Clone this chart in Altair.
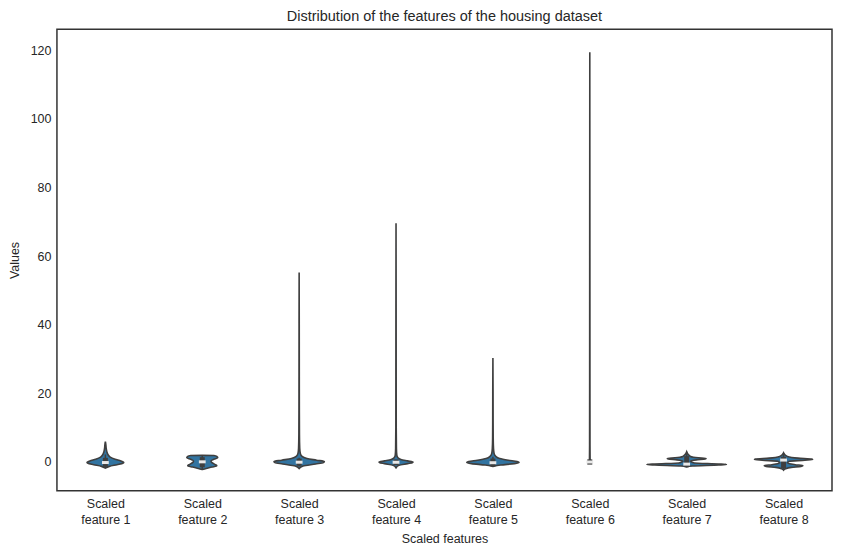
import altair as alt
import pandas as pd

# Category labels
features = ["Scaled feature 1", "Scaled feature 2", "Scaled feature 3", "Scaled feature 4",
            "Scaled feature 5", "Scaled feature 6", "Scaled feature 7", "Scaled feature 8"]

# Violin profiles: value positions and half-widths (in category units)
f1_y = [-1.8, -1.3, -0.8, -0.4, -0.1, 0.3, 0.8, 1.4, 2.0, 3.0, 4.0, 5.0, 5.9]
f1_w = [0.0, 0.04, 0.12, 0.18, 0.19, 0.16, 0.10, 0.05, 0.03, 0.015, 0.008, 0.005, 0.0]

f2_y = [-2.2, -1.9, -1.5, -1.1, -0.7, -0.2, 0.3, 0.8, 1.2, 1.6, 1.86, 1.9]
f2_w = [0.0, 0.04, 0.10, 0.15, 0.13, 0.10, 0.09, 0.12, 0.16, 0.15, 0.12, 0.0]

f3_y = [-1.9, -1.2, -0.6, -0.2, 0.1, 0.5, 1.0, 1.6, 2.5, 4.0, 8.0, 15.0, 25.0, 40.0, 55.2]
f3_w = [0.0, 0.04, 0.17, 0.25, 0.26, 0.18, 0.08, 0.03, 0.012, 0.006, 0.003, 0.002, 0.0015, 0.001, 0.0]

f4_y = [-1.7, -1.0, -0.5, -0.2, 0.0, 0.3, 0.7, 1.2, 2.0, 4.0, 10.0, 25.0, 45.0, 69.6]
f4_w = [0.0, 0.03, 0.12, 0.17, 0.175, 0.12, 0.05, 0.02, 0.008, 0.004, 0.002, 0.0015, 0.001, 0.0]

f5_y = [-1.3, -0.9, -0.5, -0.2, 0.1, 0.5, 1.0, 1.6, 2.5, 4.0, 7.0, 12.0, 20.0, 30.3]
f5_w = [0.0, 0.08, 0.22, 0.27, 0.25, 0.16, 0.07, 0.03, 0.012, 0.006, 0.003, 0.002, 0.0015, 0.0]

f6_y = [-0.25, -0.1, 0.0, 0.2, 1.0, 5.0, 20.0, 60.0, 119.4]
f6_w = [0.0, 0.006, 0.008, 0.006, 0.003, 0.002, 0.0015, 0.001, 0.0]

f7_y = [-1.45, -1.2, -0.9, -0.75, -0.6, -0.3, 0.2, 0.6, 0.85, 1.0, 1.2, 1.6, 2.2, 2.96]
f7_w = [0.0, 0.06, 0.33, 0.41, 0.33, 0.08, 0.04, 0.10, 0.19, 0.20, 0.12, 0.04, 0.015, 0.0]

f8_y = [-2.39, -2.0, -1.6, -1.3, -1.1, -0.8, -0.3, 0.2, 0.5, 0.7, 0.85, 1.1, 1.6, 2.2, 2.63]
f8_w = [0.0, 0.02, 0.08, 0.18, 0.20, 0.12, 0.04, 0.06, 0.22, 0.30, 0.29, 0.15, 0.04, 0.01, 0.0]

# Inner box statistics per feature
q1 = [-0.69, -0.85, -0.40, -0.19, -0.56, -0.06, -0.80, -1.11]
med = [-0.18, 0.03, -0.08, -0.10, -0.23, -0.02, -0.64, 0.54]
q3 = [0.46, 0.66, 0.25, 0.01, 0.26, 0.02, 0.97, 0.78]
wlo = [-1.77, -2.19, -1.37, -0.49, -1.25, -0.18, -1.45, -2.39]
whi = [2.18, 1.86, 1.23, 0.31, 1.50, 0.14, 2.96, 2.63]

profiles = [(f1_y, f1_w), (f2_y, f2_w), (f3_y, f3_w), (f4_y, f4_w),
            (f5_y, f5_w), (f6_y, f6_w), (f7_y, f7_w), (f8_y, f8_w)]

rows = []
for i, (ys, ws) in enumerate(profiles):
    for y, w in zip(ys, ws):
        rows.append({"i": i, "feature": features[i], "y": y, "w": w})
vdf = pd.DataFrame(rows)

bdf = pd.DataFrame({"i": list(range(8)), "feature": features,
                    "q1": q1, "med": med, "q3": q3, "wlo": wlo, "whi": whi})

FONT = "Liberation Sans"
TXT = "#262626"
EDGE = "#3f3f3f"

xscale = alt.Scale(domain=[-0.5, 7.5], nice=False, zero=False)
yscale = alt.Scale(domain=[-8.4, 126.1], nice=False, zero=False)

xaxis = alt.Axis(values=list(range(8)), title="Scaled features", grid=False, domain=False,
                 ticks=False, labelExpr="['Scaled', 'feature ' + (datum.value + 1)]",
                 labelFont=FONT, labelFontSize=12.5, labelColor=TXT, labelLineHeight=16,
                 labelPadding=7, titleFont=FONT, titleFontSize=12.5, titleColor=TXT,
                 titleFontWeight="normal", titlePadding=6)
yaxis = alt.Axis(values=[0, 20, 40, 60, 80, 100, 120], title="Values", grid=False,
                 domain=False, ticks=False, labelFont=FONT, labelFontSize=12.5,
                 labelColor=TXT, labelPadding=6, titleFont=FONT, titleFontSize=12.5,
                 titleColor=TXT, titleFontWeight="normal", titlePadding=9)

violins = alt.Chart(vdf).transform_calculate(
    left="datum.i - datum.w", right="datum.i + datum.w"
).mark_area(orient="horizontal", interpolate="monotone", color="#3274a1",
            stroke=EDGE, strokeWidth=1.6, opacity=1).encode(
    y=alt.Y("y:Q", scale=yscale, axis=yaxis),
    x=alt.X("left:Q", scale=xscale, axis=xaxis),
    x2="right:Q",
    detail="feature:N",
)

whisk = alt.Chart(bdf).mark_rule(color=EDGE, strokeWidth=1.5).encode(
    x=alt.X("i:Q", scale=xscale), y=alt.Y("wlo:Q", scale=yscale), y2="whi:Q")

box = alt.Chart(bdf).mark_rule(color=EDGE, strokeWidth=5, strokeCap="square").encode(
    x=alt.X("i:Q", scale=xscale), y=alt.Y("q1:Q", scale=yscale), y2="q3:Q")

median = alt.Chart(bdf).transform_calculate(
    ml="datum.i - 0.035", mr="datum.i + 0.035"
).mark_rule(color="#e8e8e8", strokeWidth=3).encode(
    x=alt.X("ml:Q", scale=xscale), x2="mr:Q", y=alt.Y("med:Q", scale=yscale))

chart = alt.layer(violins, whisk, box, median).properties(
    width=776, height=462,
    background="white",
    title=alt.TitleParams("Distribution of the features of the housing dataset",
                          font=FONT, fontSize=14.5, color=TXT, fontWeight="normal",
                          offset=5),
    autosize=alt.AutoSizeParams(type="none"),
    padding={"left": 49, "top": 21, "right": 2, "bottom": 58},
).configure_view(stroke="#333333", strokeWidth=1.5)

chart.save("out.html", embed_options={"renderer": "svg", "actions": False})
